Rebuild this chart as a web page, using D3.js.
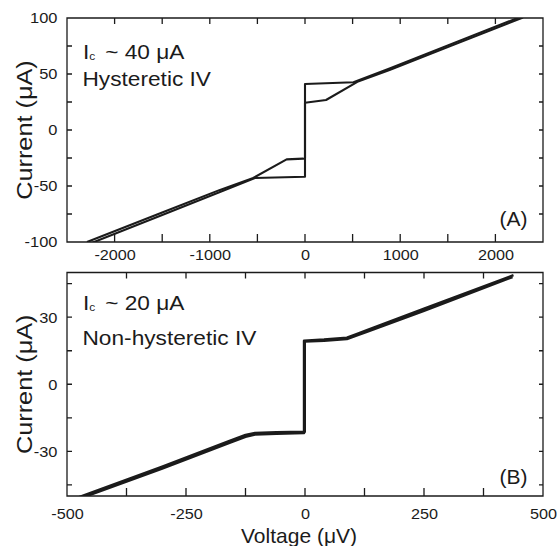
<!DOCTYPE html>
<html>
<head>
<meta charset="utf-8">
<script src="https://cdn.jsdelivr.net/npm/d3@7"></script>
<style>
  html, body { margin: 0; padding: 0; background: #fff; }
  svg { display: block; font-family: "Liberation Sans", Arial, sans-serif; }
</style>
</head>
<body>
<svg id="chart" width="558" height="546"></svg>
<script>
// ---- Panel A: hysteretic junction (voltage in µV, current in µA) ----
const hystUpV   = [-2290, -1500, -900, -544, -193, -18, 0, 0, 509, 895, 1500, 2290];
const hystUpI   = [-100.0, -73.7, -53.7, -42.8, -26.2, -25.6, -25.4, 41.1, 42.6, 55.2, 75.5, 101.9];
const hystDownV = [2290, 1500, 895, 550, 221, 0, 0, -526, -900, -1500, -2290];
const hystDownI = [100.4, 74.0, 53.8, 43.0, 26.8, 24.4, -41.7, -42.9, -55.6, -75.9, -102.5];

// ---- Panel B: non-hysteretic junction ----
const nhUpV   = [-475, -300, -160, -125, -105, -60, -2, -2, 40, 88, 108, 130, 250, 438];
const nhUpI   = [-51.3, -37.7, -26.3, -23.5, -22.5, -22.2, -21.8, 19.5, 20.0, 20.8, 22.4, 24.2, 33.8, 48.8];
const nhDownV = [436, 250, 130, 108, 88, 40, -0.5, -0.5, -60, -105, -125, -160, -300, -475];
const nhDownI = [48.0, 32.9, 23.5, 21.8, 20.2, 19.5, 19.1, -21.3, -21.5, -21.8, -22.7, -25.5, -36.9, -50.5];

// ---- axis ticks and labels ----
const xTicksA = [-2000, -1500, -1000, -500, 0, 500, 1000, 1500, 2000];
const xLabelsA = [-2000, -1000, 0, 1000, 2000];
const yTicksA = [-75, -50, -25, 0, 25, 50, 75];
const yLabelsA = [-100, -50, 0, 50, 100];
const xTicksB = [-375, -250, -125, 0, 125, 250, 375];
const xLabelsB = [-500, -250, 0, 250, 500];
const yTicksB = [-45, -30, -15, 0, 15, 30, 45];
const yLabelsB = [-30, 0, 30];

const zip = (vs, is) => vs.map((v, k) => [v, is[k]]);
const ink = "#1b1b1b";
const plain = d => String(d);   // hyphen-minus, as typeset on the plot
const svg = d3.select("#chart");

const left = 67, right = 543;
const panels = [
  {
    id: "A", top: 18, bottom: 242,
    xDom: [-2500, 2500], yDom: [-100, 100],
    xTicks: xTicksA, xLabels: xLabelsA, yTicks: yTicksA, yLabels: yLabelsA,
    xPad: 7, traceWidth: 2.1,
    sweeps: [zip(hystUpV, hystUpI), zip(hystDownV, hystDownI)],
    tag: "(A)", tagY: 226,
    noteIc: "~ 40 \u03BCA", noteType: "Hysteretic IV", noteY1: 59, noteY2: 86
  },
  {
    id: "B", top: 272.5, bottom: 496,
    xDom: [-500, 500], yDom: [-50, 50],
    xTicks: xTicksB, xLabels: xLabelsB, yTicks: yTicksB, yLabels: yLabelsB,
    xPad: 12, traceWidth: 2.5,
    sweeps: [zip(nhUpV, nhUpI), zip(nhDownV, nhDownI)],
    tag: "(B)", tagY: 483.5,
    noteIc: "~ 20 \u03BCA", noteType: "Non-hysteretic IV", noteY1: 310, noteY2: 344.5
  }
];

panels.forEach(p => {
  const x = d3.scaleLinear().domain(p.xDom).range([left, right]);
  const y = d3.scaleLinear().domain(p.yDom).range([p.bottom, p.top]);
  const g = svg.append("g");

  // clip region for the traces
  svg.append("clipPath").attr("id", "clip" + p.id)
    .append("rect")
    .attr("x", left).attr("y", p.top)
    .attr("width", right - left).attr("height", p.bottom - p.top);

  const line = d3.line().x(d => x(d[0])).y(d => y(d[1]));
  g.append("g").attr("clip-path", `url(#clip${p.id})`)
    .selectAll("path").data(p.sweeps).join("path")
    .attr("d", line)
    .attr("fill", "none")
    .attr("stroke", ink)
    .attr("stroke-width", p.traceWidth)
    .attr("stroke-linejoin", "round");

  // frame and inward tick marks on all four sides, traced as one outline
  const outline = d3.path();
  outline.rect(left, p.top, right - left, p.bottom - p.top);
  p.xTicks.forEach(t => {
    outline.moveTo(x(t), p.bottom); outline.lineTo(x(t), p.bottom - 8);
    outline.moveTo(x(t), p.top);    outline.lineTo(x(t), p.top + 6);
  });
  p.yTicks.forEach(t => {
    outline.moveTo(left, y(t));  outline.lineTo(left + 5, y(t));
    outline.moveTo(right, y(t)); outline.lineTo(right - 4, y(t));
  });
  g.append("path")
    .attr("d", outline.toString())
    .attr("fill", "none")
    .attr("stroke", ink)
    .attr("stroke-width", 1.3);

  // tick labels
  const xl = g.append("g").attr("transform", `translate(0,${p.bottom})`)
    .call(d3.axisBottom(x).tickValues(p.xLabels).tickSize(0).tickPadding(p.xPad).tickFormat(plain));
  xl.select(".domain").remove();
  xl.selectAll("text").attr("font-size", 15).attr("fill", ink)
    .attr("font-family", "Liberation Sans, Arial, sans-serif")
    .attr("transform", "scale(1.08,1)");

  const yl = g.append("g").attr("transform", `translate(${left},0)`)
    .call(d3.axisLeft(y).tickValues(p.yLabels).tickSize(0).tickPadding(9.5).tickFormat(plain));
  yl.select(".domain").remove();
  yl.selectAll("text").attr("font-size", 15.5).attr("fill", ink)
    .attr("font-family", "Liberation Sans, Arial, sans-serif")
    .attr("transform", "scale(1.06,1)")
    .attr("x", -9.5 / 1.06);

  // panel tag
  g.append("text")
    .attr("x", 527.5).attr("y", p.tagY)
    .attr("text-anchor", "end")
    .attr("font-size", 21).attr("fill", ink)
    .text(p.tag);

  // annotations
  const n1 = g.append("g").attr("transform", `translate(83,${p.noteY1}) scale(1.08,1)`)
    .append("text").attr("font-size", 21).attr("fill", ink);
  n1.append("tspan").attr("x", 0).text("I");
  n1.append("tspan").attr("font-size", 11).attr("dy", 1).text("c");
  n1.append("tspan").attr("x", 20.5).attr("dy", -1).text(p.noteIc);

  g.append("g").attr("transform", `translate(82.5,${p.noteY2}) scale(1.08,1)`)
    .append("text").attr("font-size", 21).attr("fill", ink)
    .text(p.noteType);

  // y-axis title
  g.append("text")
    .attr("transform", `translate(32,${(p.top + p.bottom) / 2}) rotate(-90) scale(1.15,1)`)
    .attr("text-anchor", "middle")
    .attr("font-size", 22).attr("fill", ink)
    .text("Current (\u03BCA)");
});

// x-axis title (shared)
svg.append("text")
  .attr("x", 299).attr("y", 542.5)
  .attr("text-anchor", "middle")
  .attr("font-size", 21).attr("fill", ink)
  .text("Voltage (\u03BCV)");
</script>
</body>
</html>
